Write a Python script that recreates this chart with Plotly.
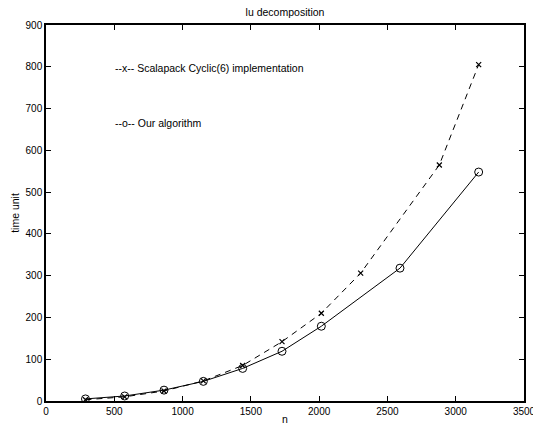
import plotly.graph_objects as go

# Problem sizes and timings
n_scalapack = [289, 576, 864, 1152, 1440, 1728, 2016, 2304, 2880, 3168]
t_scalapack = [3, 10, 24, 48, 85, 142, 210, 306, 565, 805]

n_ours = [289, 576, 864, 1152, 1440, 1728, 2016, 2592, 3168]
t_ours = [5, 12, 26, 47, 78, 119, 179, 318, 548]

x_ticks = [0, 500, 1000, 1500, 2000, 2500, 3000, 3500]
y_ticks = [0, 100, 200, 300, 400, 500, 600, 700, 800, 900]

FONT = "Liberation Sans, Arial, Helvetica, sans-serif"
TXT = dict(family=FONT, size=10.5, color="black")

fig = go.Figure()
fig.add_trace(go.Scatter(
    x=n_scalapack, y=t_scalapack, mode="lines+markers",
    line=dict(color="black", width=1, dash="6px,5px"),
    marker=dict(symbol="x-thin", size=5, line=dict(color="black", width=1.2)),
    showlegend=False,
))
fig.add_trace(go.Scatter(
    x=n_ours, y=t_ours, mode="lines+markers",
    line=dict(color="black", width=1),
    marker=dict(symbol="circle-open", size=8, color="black", line=dict(color="black", width=1)),
    showlegend=False,
))

axis_common = dict(
    showgrid=False, zeroline=False, showline=True, linecolor="black", linewidth=1.5,
    mirror="ticks", ticks="inside", ticklen=5, tickcolor="black", tickwidth=1,
    tickfont=dict(family=FONT, size=10, color="black"),
    automargin=False, ticklabeloverflow="allow",
)
fig.update_xaxes(range=[0, 3500], tickvals=x_ticks,
                 title=dict(text="n", font=TXT, standoff=0),
                 **axis_common)
fig.update_yaxes(range=[0, 900], tickvals=y_ticks,
                 title=dict(text="time unit", font=TXT, standoff=4),
                 **axis_common)

fig.add_annotation(x=0.14, y=0.886, xref="paper", yref="paper", xanchor="left", yanchor="middle",
                   text="--x-- Scalapack Cyclic(6) implementation", showarrow=False, font=TXT)
fig.add_annotation(x=0.14, y=0.739, xref="paper", yref="paper", xanchor="left", yanchor="middle",
                   text="--o-- Our algorithm", showarrow=False, font=TXT)

fig.update_layout(
    width=533, height=427,
    margin=dict(l=46, r=9, t=25, b=26),
    paper_bgcolor="white", plot_bgcolor="white",
    title=dict(text="lu decomposition", x=0.5, xref="paper", y=1 - 12 / 427, yanchor="middle",
               font=TXT),
)

fig.write_html("out.html")
